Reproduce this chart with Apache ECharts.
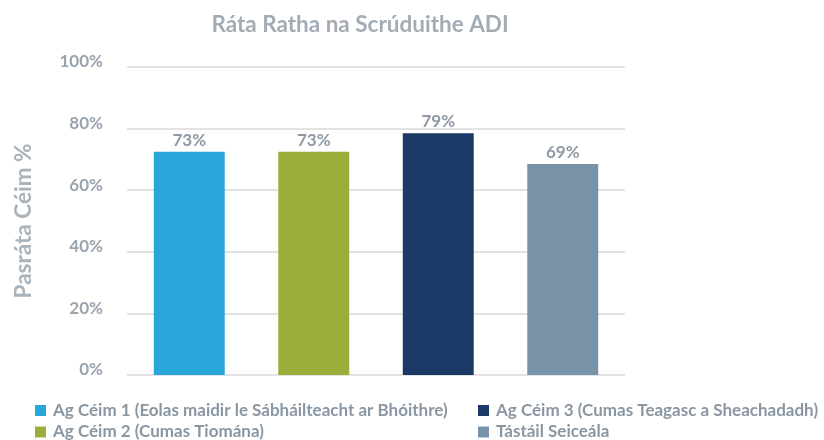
<!DOCTYPE html>
<html>
<head>
<meta charset="utf-8">
<script src="https://cdn.jsdelivr.net/npm/echarts@6/dist/echarts.min.js"></script>
<style>
html,body{margin:0;padding:0;background:#fff;}
#chart{width:824px;height:440px;}
</style>
</head>
<body>
<div id="chart"></div>
<script>
const titleText = 'Ráta Ratha na Scrúduithe ADI';
const yAxisName = 'Pasráta Céim %';
const categories = [
  'Ag Céim 1 (Eolas maidir le Sábháilteacht ar Bhóithre)',
  'Ag Céim 2 (Cumas Tiomána)',
  'Ag Céim 3 (Cumas Teagasc a Sheachadadh)',
  'Tástáil Seiceála'
];
const values = [72.5, 72.5, 78.5, 68.5];
const colors = ['#29a7db', '#9cad3a', '#1b3866', '#7892a8'];

const textGray = '#9aa4ae';
const font = 'Lato';

const series = categories.map((name, i) => ({
  name: name,
  type: 'bar',
  barWidth: '57%',
  barGap: '-100%',
  itemStyle: { color: colors[i] },
  label: {
    show: true,
    position: 'top',
    distance: 3,
    color: '#8e99a5',
    fontFamily: font,
    fontWeight: 'bold',
    fontSize: 17,
    formatter: p => Math.round(p.value) + '%'
  },
  data: categories.map((c, j) => j === i ? values[i] : null)
}));

const legendPos = [[30, 397], [30, 418.5], [473, 397], [473, 418.5]];
const legends = categories.map((name, i) => ({
  left: legendPos[i][0], top: legendPos[i][1],
  icon: 'rect', itemWidth: 11, itemHeight: 11, itemGap: 7,
  data: [name],
  textStyle: { color: '#8a96a2', fontFamily: font, fontWeight: 'bold', fontSize: 17, padding: [0,0,0,2] }
}));

const chart = echarts.init(document.getElementById('chart'));
chart.setOption({
  animation: false,
  title: {
    text: titleText,
    left: 355,
    textAlign: 'center',
    top: 8,
    textStyle: { color: '#a3acb5', fontFamily: font, fontWeight: 'bold', fontSize: 22.5 }
  },
  grid: { left: 127, right: 199, top: 67, bottom: 65 },
  xAxis: {
    type: 'category',
    data: categories,
    axisLine: { show: false },
    axisTick: { show: false },
    axisLabel: { show: false }
  },
  yAxis: {
    type: 'value',
    min: 0, max: 100, interval: 20,
    name: yAxisName,
    nameLocation: 'middle',
    nameGap: 92,
    nameTextStyle: { color: '#a9b3bc', fontFamily: font, fontWeight: 'bold', fontSize: 22.5 },
    axisLine: { show: false },
    axisTick: { show: false },
    axisLabel: {
      formatter: '{value}%',
      margin: 24,
      color: textGray,
      fontFamily: font,
      fontWeight: 'bold',
      fontSize: 17,
      lineHeight: 10,
      verticalAlign: 'bottom'
    },
    splitLine: { lineStyle: { color: '#e3e3e3', width: 2 } }
  },
  legend: legends,
  series: series
});
</script>
</body>
</html>
